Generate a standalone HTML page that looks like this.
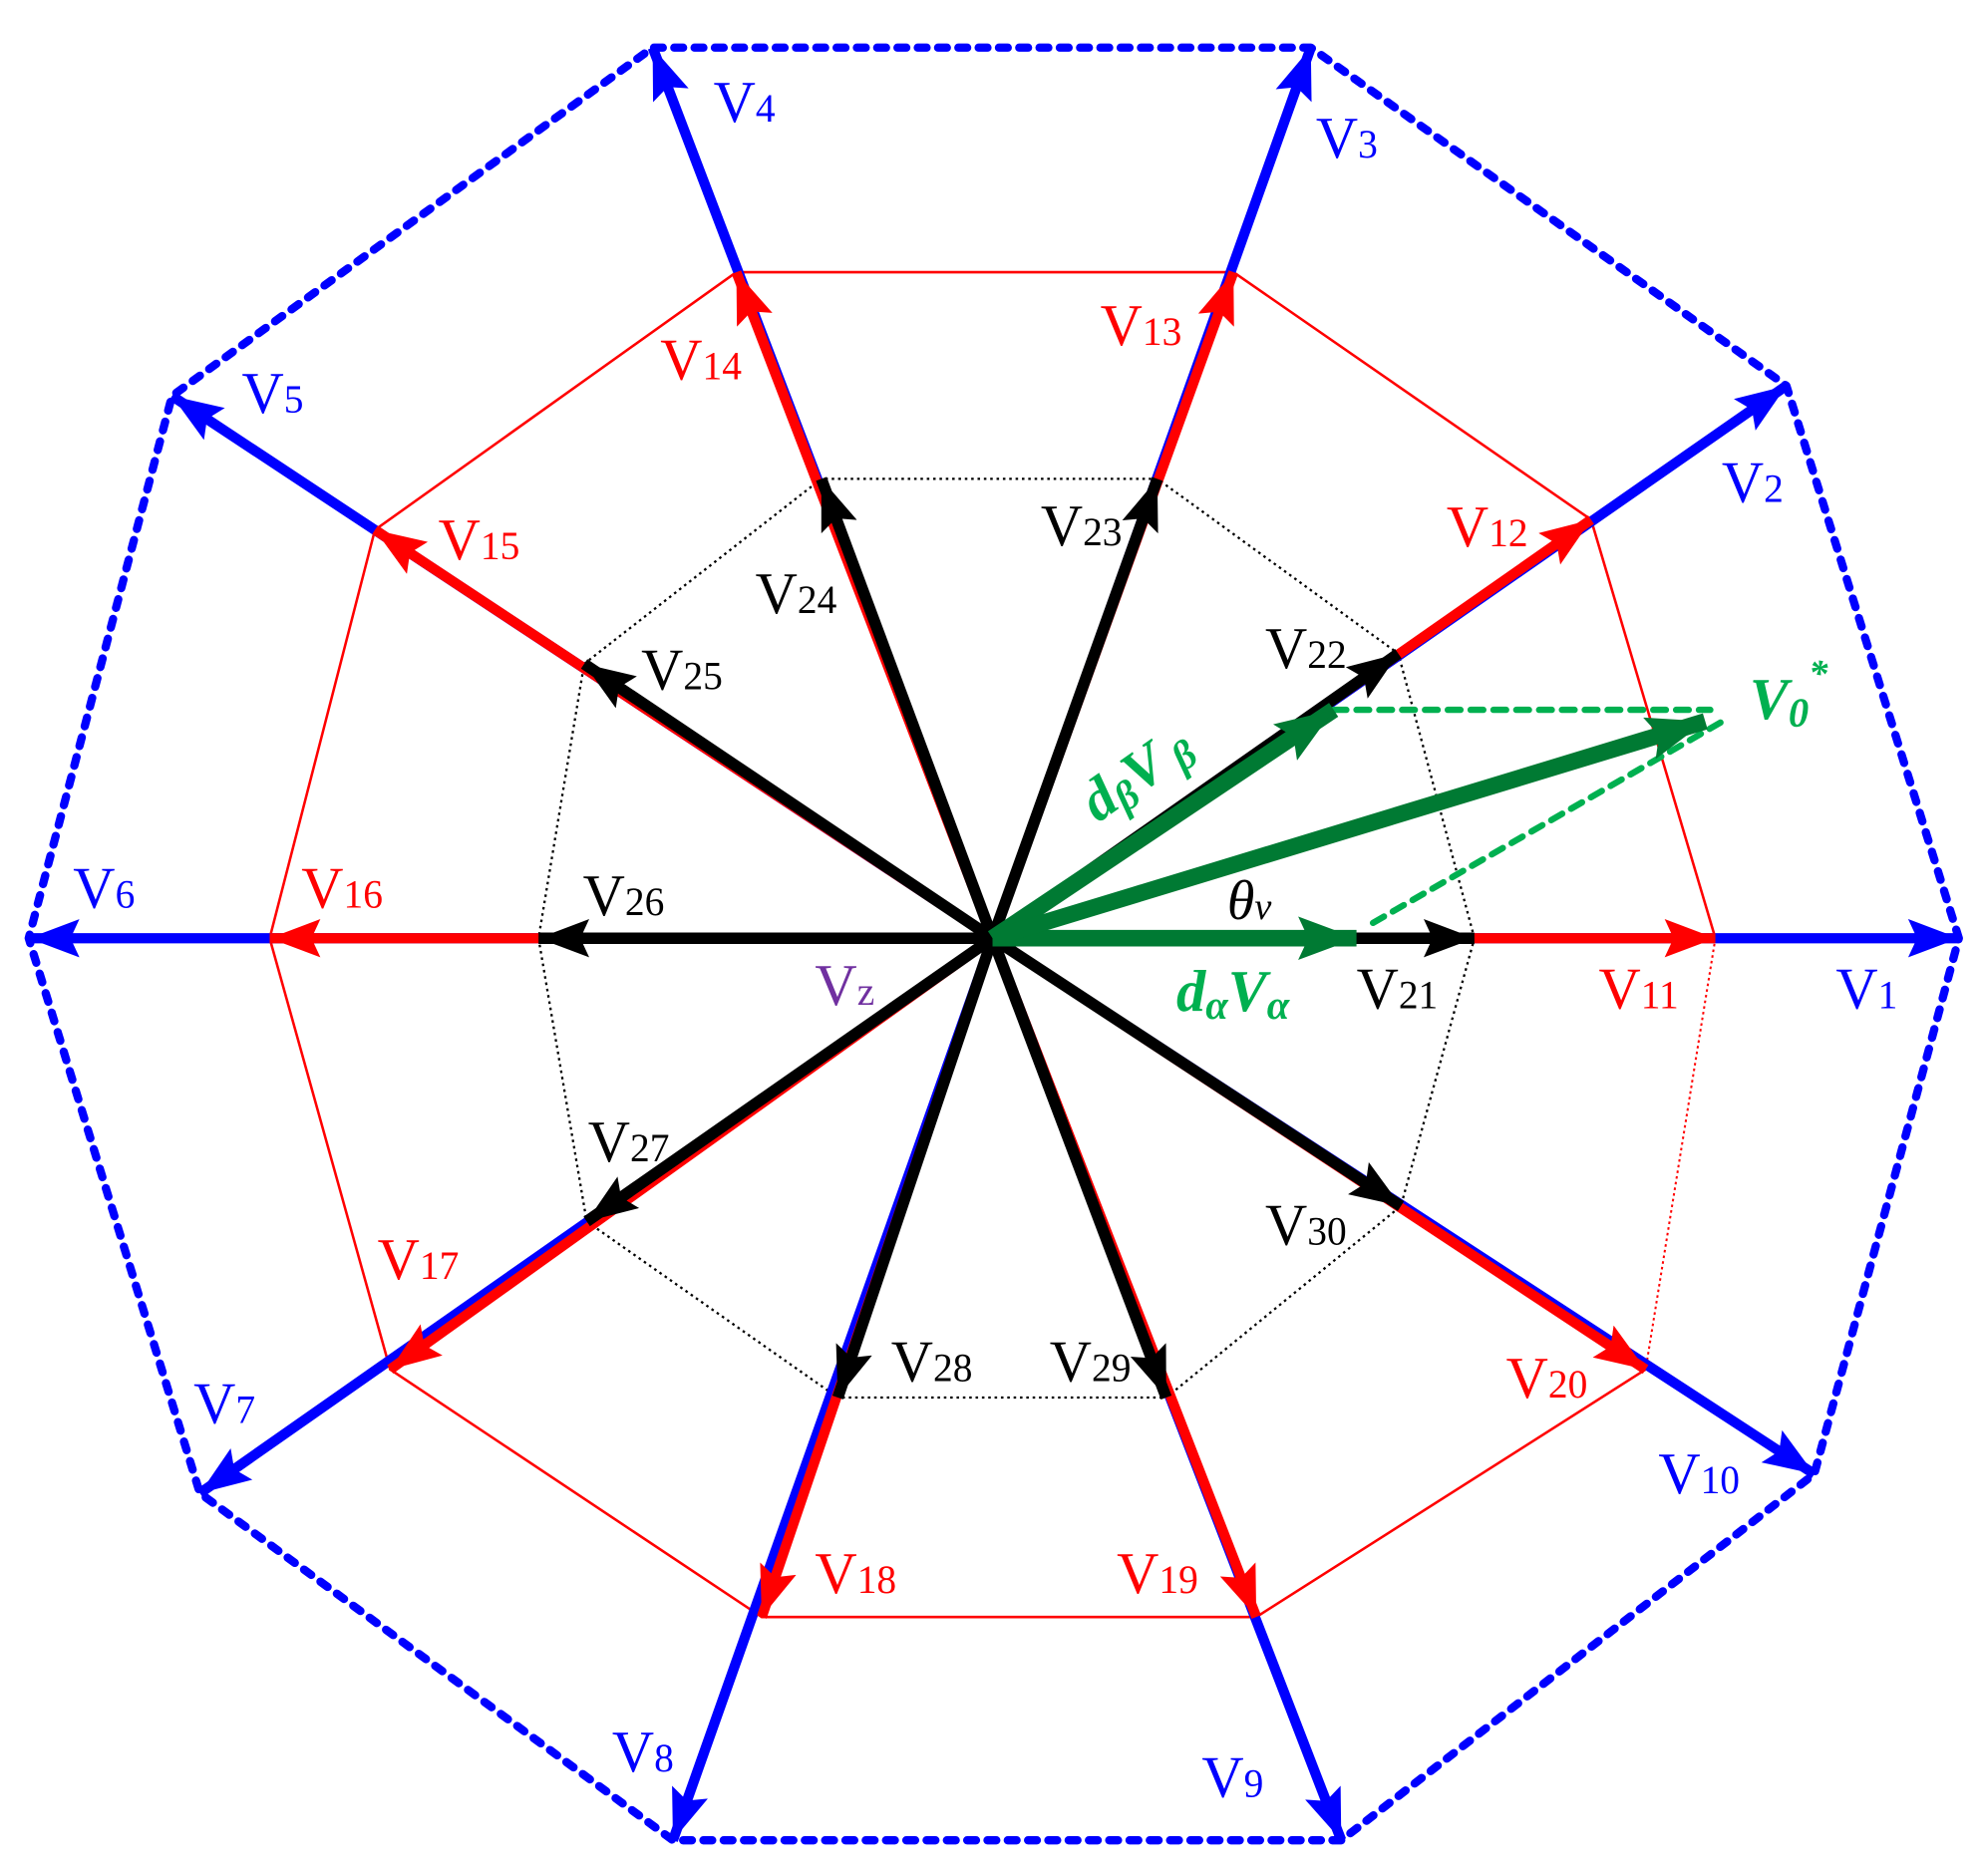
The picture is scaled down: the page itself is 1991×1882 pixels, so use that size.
<!DOCTYPE html>
<html><head><meta charset="utf-8"><style>
html,body{margin:0;padding:0;background:#fff;}
svg{display:block;}
text{font-family:"Liberation Serif",serif;}
</style></head><body>
<svg width="1991" height="1882" viewBox="0 0 1991 1882" xmlns="http://www.w3.org/2000/svg">
<defs>
<marker id="mb" markerUnits="userSpaceOnUse" markerWidth="44" markerHeight="32" refX="40" refY="15" orient="auto"><path d="M0,0 L40,15 L0,30 L7,15 Z" fill="#0000ff"/></marker>
<marker id="mr" markerUnits="userSpaceOnUse" markerWidth="44" markerHeight="32" refX="40" refY="15" orient="auto"><path d="M0,0 L40,15 L0,30 L7,15 Z" fill="#ff0000"/></marker>
<marker id="mk" markerUnits="userSpaceOnUse" markerWidth="44" markerHeight="32" refX="40" refY="15" orient="auto"><path d="M0,0 L40,15 L0,30 L7,15 Z" fill="#000"/></marker>
<marker id="mg" markerUnits="userSpaceOnUse" markerWidth="50" markerHeight="36" refX="46" refY="17" orient="auto"><path d="M0,0 L46,17 L0,34 L8,17 Z" fill="#007a33"/></marker>
</defs>
<g transform="translate(-3,-6) scale(1.272,1.28)">
<polygon points="1547,740 1411,307 1036,42 517,42 138,315 25,740 160,1175 533,1447 1060,1447 1433,1160" fill="none" stroke="#0000ff" stroke-width="6.5" stroke-dasharray="7,9" stroke-linecap="round" stroke-linejoin="round"/>
<polyline points="1300,1078 993,1272 603,1272 310,1078 215,740 298,420 583,218 975,218 1257,412 1355,740" fill="none" stroke="#ff0000" stroke-width="2"/>
<line x1="1355" y1="740" x2="1300" y2="1078" stroke="#ff0000" stroke-width="1.6" stroke-dasharray="2,2.5"/>
<polygon points="1165,740 1105,517 915,380 650,380 463,525 427,740 465,962 663,1100 922,1100 1107,950" fill="none" stroke="#000" stroke-width="1.8" stroke-dasharray="2,3"/>
<g stroke="#0000ff" stroke-width="8" marker-end="url(#mb)">
<line x1="785" y1="740" x2="1547" y2="740"/><line x1="785" y1="740" x2="1411" y2="307"/>
<line x1="785" y1="740" x2="1036" y2="42"/><line x1="785" y1="740" x2="517" y2="42"/>
<line x1="785" y1="740" x2="138" y2="315"/><line x1="785" y1="740" x2="25" y2="740"/>
<line x1="785" y1="740" x2="160" y2="1175"/><line x1="785" y1="740" x2="533" y2="1447"/>
<line x1="785" y1="740" x2="1060" y2="1447"/><line x1="785" y1="740" x2="1433" y2="1160"/>
</g>
<g stroke="#ff0000" stroke-width="8" marker-end="url(#mr)">
<line x1="785" y1="740" x2="1355" y2="740"/><line x1="785" y1="740" x2="1257" y2="412"/>
<line x1="785" y1="740" x2="975" y2="218"/><line x1="785" y1="740" x2="583" y2="218"/>
<line x1="785" y1="740" x2="298" y2="420"/><line x1="785" y1="740" x2="215" y2="740"/>
<line x1="785" y1="740" x2="310" y2="1078"/><line x1="785" y1="740" x2="603" y2="1272"/>
<line x1="785" y1="740" x2="993" y2="1272"/><line x1="785" y1="740" x2="1300" y2="1078"/>
</g>
<g stroke="#000" stroke-width="9" marker-end="url(#mk)">
<line x1="785" y1="740" x2="1165" y2="740"/><line x1="785" y1="740" x2="1105" y2="517"/>
<line x1="785" y1="740" x2="915" y2="380"/><line x1="785" y1="740" x2="650" y2="380"/>
<line x1="785" y1="740" x2="463" y2="525"/><line x1="785" y1="740" x2="427" y2="740"/>
<line x1="785" y1="740" x2="465" y2="962"/><line x1="785" y1="740" x2="663" y2="1100"/>
<line x1="785" y1="740" x2="922" y2="1100"/><line x1="785" y1="740" x2="1107" y2="950"/>
</g>
<g stroke="#00b050" stroke-width="5" stroke-dasharray="10,8" stroke-linecap="round">
<line x1="1054" y1="561" x2="1351" y2="561"/>
<line x1="1085" y1="728" x2="1359" y2="571"/>
</g>
<g stroke="#007a33" stroke-width="13" marker-end="url(#mg)">
<line x1="785" y1="740" x2="1072" y2="740"/>
<line x1="785" y1="740" x2="1054" y2="561"/>
<line x1="785" y1="740" x2="1347" y2="570"/>
</g>
<g font-size="46" fill="#0000ff">
<text x="1450" y="795">V<tspan font-size="31">1</tspan></text>
<text x="1360" y="398">V<tspan font-size="31">2</tspan></text>
<text x="1040" y="128">V<tspan font-size="31">3</tspan></text>
<text x="565" y="100">V<tspan font-size="31">4</tspan></text>
<text x="193" y="328">V<tspan font-size="31">5</tspan></text>
<text x="60" y="716">V<tspan font-size="31">6</tspan></text>
<text x="155" y="1120">V<tspan font-size="31">7</tspan></text>
<text x="485" y="1393">V<tspan font-size="31">8</tspan></text>
<text x="950" y="1413">V<tspan font-size="31">9</tspan></text>
<text x="1310" y="1175">V<tspan font-size="31">10</tspan></text>
</g>
<g font-size="46" fill="#ff0000">
<text x="1263" y="795">V<tspan font-size="31">11</tspan></text>
<text x="1143" y="433">V<tspan font-size="31">12</tspan></text>
<text x="870" y="275">V<tspan font-size="31">13</tspan></text>
<text x="523" y="302">V<tspan font-size="31">14</tspan></text>
<text x="348" y="443">V<tspan font-size="31">15</tspan></text>
<text x="240" y="716">V<tspan font-size="31">16</tspan></text>
<text x="300" y="1007">V<tspan font-size="31">17</tspan></text>
<text x="645" y="1253">V<tspan font-size="31">18</tspan></text>
<text x="883" y="1253">V<tspan font-size="31">19</tspan></text>
<text x="1190" y="1100">V<tspan font-size="31">20</tspan></text>
</g>
<g font-size="46" fill="#000">
<text x="1072" y="795">V<tspan font-size="31">21</tspan></text>
<text x="1000" y="528">V<tspan font-size="31">22</tspan></text>
<text x="823" y="432">V<tspan font-size="31">23</tspan></text>
<text x="598" y="485">V<tspan font-size="31">24</tspan></text>
<text x="508" y="545">V<tspan font-size="31">25</tspan></text>
<text x="462" y="722">V<tspan font-size="31">26</tspan></text>
<text x="466" y="915">V<tspan font-size="31">27</tspan></text>
<text x="705" y="1087">V<tspan font-size="31">28</tspan></text>
<text x="830" y="1087">V<tspan font-size="31">29</tspan></text>
<text x="1000" y="980">V<tspan font-size="31">30</tspan></text>
<text x="970" y="725" font-style="italic" font-size="44">θ<tspan font-size="30">v</tspan></text>
</g>
<text x="645" y="792" font-size="46" fill="#7030a0">V<tspan font-size="31">z</tspan></text>
<text x="930" y="797" font-size="46" fill="#00b050" font-style="italic" font-weight="bold">d<tspan font-size="32" dy="6">α</tspan><tspan dy="-6">V</tspan><tspan font-size="32" dy="6">α</tspan></text>
<text x="0" y="0" transform="translate(868,650) rotate(-35)" font-size="46" fill="#00b050" font-style="italic" font-weight="bold">d<tspan font-size="32" dy="6">β</tspan><tspan dy="-6">V</tspan><tspan font-size="32" dy="6"> β</tspan></text>
<text x="1382" y="568" font-size="46" fill="#00b050" font-style="italic" font-weight="bold">V<tspan font-size="32" dy="6">0</tspan><tspan font-size="30" dy="-32">*</tspan></text>
</g>
</svg>
</body></html>
